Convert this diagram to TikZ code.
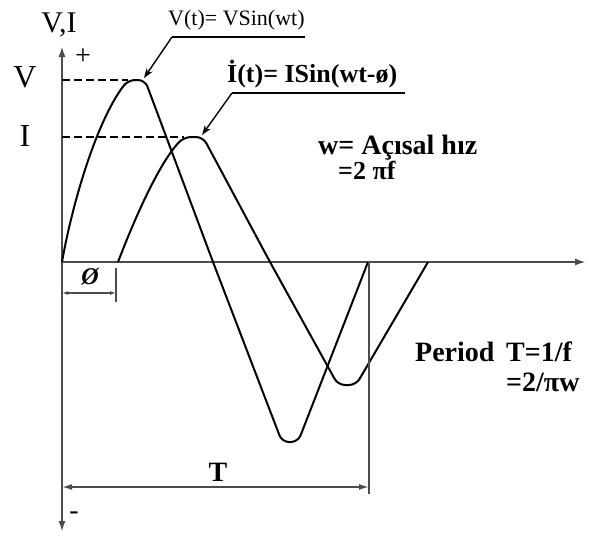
\documentclass[tikz,border=0pt]{standalone}
\usepackage{fontspec}
\setmainfont{Liberation Serif}
\usetikzlibrary{arrows.meta}
\tikzset{
  axis/.style={line width=2pt, draw=black!70, -{Latex[length=11pt,width=7pt]}},
  curve/.style={line width=2pt, rounded corners=7pt},
  dashline/.style={line width=1.5pt, dash pattern=on 8pt off 4pt},
  dimline/.style={line width=1.6pt, draw=black!70},
  leader/.style={line width=1.4pt, -{Stealth[length=10pt,width=7pt]}},
  lbl/.style={inner sep=0pt, font=\fontsize{28}{30}\selectfont\bfseries},
  reg/.style={inner sep=0pt, font=\fontsize{22}{24}\selectfont},
}
\begin{document}
\begin{tikzpicture}[x=1pt,y=-1pt]
\useasboundingbox (0,0) rectangle (589,536);
% axes
\coordinate (O) at (62,262);
\coordinate (ytop) at (62,46);
\coordinate (ybot) at (62,532);
\coordinate (xend) at (586,262);
\draw[axis] (O) -- (ytop);
\draw[axis] (O) -- (ybot);
\draw[axis] (O) -- (xend);
% axis labels
\node[inner sep=0pt, font=\fontsize{30}{32}\selectfont] (vi) at (59,25) {V,I};
\node[inner sep=0pt, font=\fontsize{28}{30}\selectfont] (plus) at (83,57) {+};
\node[inner sep=0pt, font=\fontsize{28}{30}\selectfont] (minus) at (74,516) {-};
\node[inner sep=0pt, font=\fontsize{32}{34}\selectfont] (vlab) at (25,77) {V};
\node[inner sep=0pt, font=\fontsize{32}{34}\selectfont] (ilab) at (25,136) {I};
% dashed levels
\coordinate (vpk) at (128,80);
\coordinate (ipk) at (184,137);
\draw[dashline] (62,80) -- (vpk);
\draw[dashline] (62,137) -- (ipk);
% V curve
\draw[curve] (O) .. controls (72,205) and (96,122) .. (vpk) -- (145,80)
  -- (213,262) -- (282,442) -- (298,442) -- (368,262);
% I curve
\coordinate (istart) at (118,262);
\draw[curve] (istart) .. controls (136,215) and (160,162) .. (ipk) -- (203,137)
  -- (270,262) -- (338,385) -- (356,385) -- (428,262);
% leaders
\node[reg, anchor=south west] (vtext) at (168,30) {V(t)= VSin(wt)};
\coordinate (vl1) at (172,37);
\coordinate (vl2) at (305,37);
\coordinate (vtip) at (144,78);
\draw[line width=1.4pt] (vl2) -- (vl1);
\draw[leader] (vl1) -- (vtip);
\node[inner sep=0pt, font=\fontsize{26}{28}\selectfont\bfseries, anchor=south west] (itext) at (227,88) {İ(t)= ISin(wt-ø)};
\coordinate (il1) at (232,93);
\coordinate (il2) at (405,93);
\coordinate (itip) at (202,135);
\draw[line width=1.4pt] (il2) -- (il1);
\draw[leader] (il1) -- (itip);
% annotations
\node[lbl, anchor=west] (wtext) at (318,148) {w= Açısal hız};
\node[inner sep=0pt, font=\fontsize{26}{28}\selectfont\bfseries, anchor=west] (wtext2) at (338,170) {=2 πf};
\node[lbl, anchor=west] (ptext) at (415,352) {Period\, T=1/f};
\node[lbl, anchor=west] (ptext2) at (506,382) {=2/πw};
% phi dimension
\coordinate (p1) at (62,293);
\coordinate (p2) at (116,293);
\draw[dimline] (116,268) -- (116,302);
\draw[dimline, {Latex[length=6pt,width=4pt]}-{Latex[length=6pt,width=4pt]}] (p1) -- (p2);
\node[inner sep=0pt, font=\fontsize{24}{26}\selectfont\bfseries\itshape] (phi) at (90,277) {Ø};
% T dimension
\coordinate (t1) at (62,487);
\coordinate (t2) at (369,487);
\draw[dimline] (369,262) -- (369,494);
\draw[dimline, {Latex[length=10pt,width=6pt]}-{Latex[length=10pt,width=6pt]}] (t1) -- (t2);
\node[lbl] (T) at (218,472) {T};
\end{tikzpicture}
\end{document}
